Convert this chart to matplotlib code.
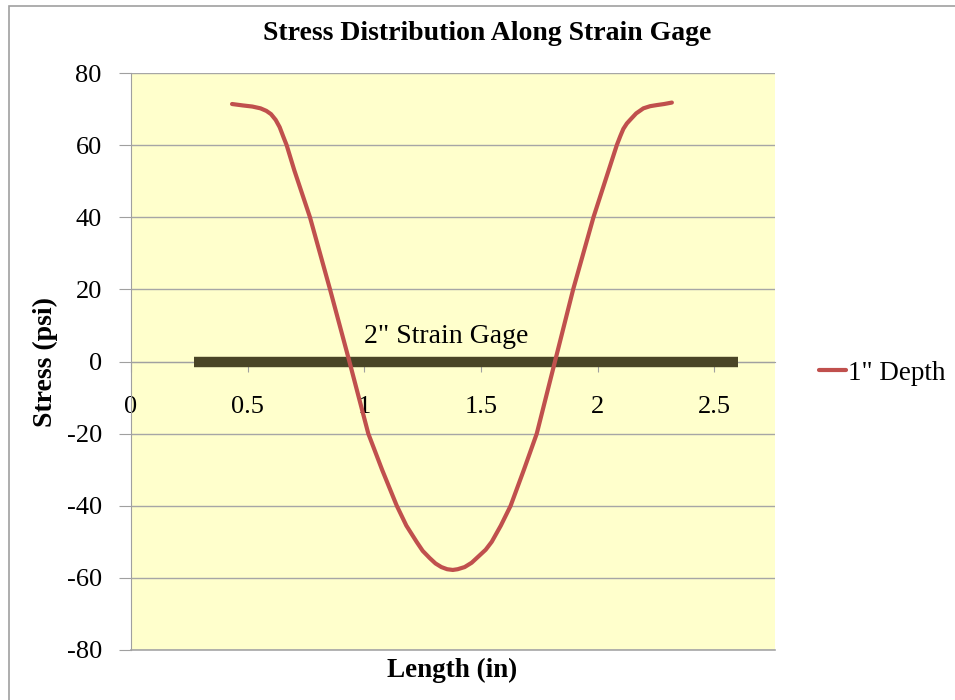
import matplotlib.pyplot as plt
from matplotlib.patches import Rectangle

# values
length_in = [0.433, 0.48, 0.52, 0.555, 0.58, 0.60, 0.62, 0.637, 0.653, 0.667,
             0.70, 0.767, 0.853, 0.936, 1.017, 1.076, 1.139, 1.18, 1.224, 1.25,
             1.28, 1.305, 1.33, 1.355, 1.379, 1.40, 1.43, 1.46, 1.49, 1.52,
             1.546, 1.585, 1.627, 1.684, 1.739, 1.817, 1.895, 1.982, 2.082, 2.097,
             2.11, 2.125, 2.139, 2.165, 2.196, 2.225, 2.253, 2.285, 2.318]
stress_psi = [71.4, 71.0, 70.7, 70.2, 69.5, 68.6, 67.0, 65.0, 62.3, 60.0,
              53.0, 40.0, 20.0, 0.0, -20.0, -30.0, -40.0, -45.5, -50.0, -52.5,
              -54.5, -56.0, -57.0, -57.6, -57.8, -57.6, -57.0, -55.8, -54.0, -52.2,
              -50.0, -45.5, -40.0, -30.0, -20.0, 0.0, 20.0, 40.0, 60.0, 62.5,
              64.5, 66.0, 67.0, 68.8, 70.2, 70.8, 71.1, 71.4, 71.8]

gage_x = [0.27, 2.6]
gage_y = [0, 0]

x_ticks = [0, 0.5, 1, 1.5, 2, 2.5]
x_labels = ["0", "0.5", "1", "1.5", "2", "2.5"]
y_ticks = [-80, -60, -40, -20, 0, 20, 40, 60, 80]

plt.rcParams['font.family'] = ['Liberation Serif', 'DejaVu Serif']
plt.rcParams['axes.unicode_minus'] = False

W, H = 955, 700
fig = plt.figure(figsize=(W / 100, H / 100), dpi=100)

# chart border (Excel chart area)
fig.patches.append(Rectangle((9 / W, -0.1), 1.2, 1 - 6 / H + 0.1, transform=fig.transFigure,
                             fill=False, edgecolor='#A0A0A0', lw=1.2))

ax = fig.add_axes([131 / W, 50 / H, (775 - 131) / W, (650 - 73) / H])
ax.set_facecolor('#FFFFCC')

ax.plot(gage_x, gage_y, color='#4A4526', lw=7.5, solid_capstyle='butt', zorder=3)
ax.plot(length_in, stress_psi, color='#C0504D', lw=3, label='1" Depth', zorder=4,
        solid_joinstyle='round', solid_capstyle='round')

ax.text(1.35, 6.8, '2" Strain Gage', ha='center', va='center', fontsize=20, zorder=5)

ax.set_xlim(0, 2.76)
ax.set_ylim(-80, 80)
ax.set_xticks(x_ticks)
ax.set_xticklabels(x_labels)
ax.set_yticks(y_ticks)
ax.grid(axis='y', color='#A6A6A6', lw=1)
ax.axhline(-80, color='#A6A6A6', lw=1.2, clip_on=False, zorder=1)
ax.set_axisbelow(True)

ax.spines['top'].set_visible(False)
ax.spines['right'].set_visible(False)
ax.spines['left'].set_color('#A0A0A0')
ax.spines['bottom'].set_position(('data', 0))
ax.spines['bottom'].set_color('#A0A0A0')

ax.tick_params(axis='x', direction='out', length=7, color='#A0A0A0', pad=18, labelsize=19)
ax.tick_params(axis='y', direction='out', length=9, color='#A0A0A0', pad=12, labelsize=19)

fig.text(487 / W, 1 - 33 / H, 'Stress Distribution Along Strain Gage',
         ha='center', va='center', fontsize=20, fontweight='bold')
fig.text(452 / W, 1 - 670 / H, 'Length (in)', ha='center', va='center',
         fontsize=19.5, fontweight='bold')
fig.text(45 / W, 1 - 362 / H, 'Stress (psi)', ha='center', va='center',
         rotation=90, fontsize=20, fontweight='bold')

ax.legend(loc='center left', bbox_to_anchor=(1.03, 0.48), frameon=False,
          fontsize=19.5, handlelength=1.0, handletextpad=0.1)

fig.savefig('out.png', dpi=100)
